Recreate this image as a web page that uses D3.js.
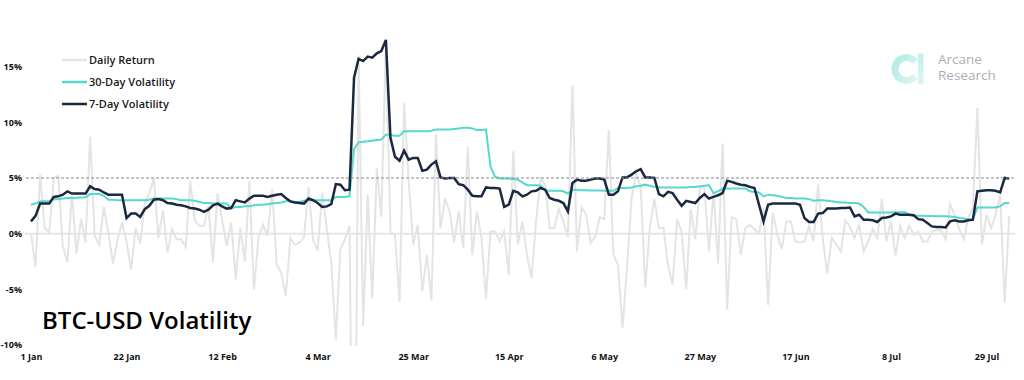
<!DOCTYPE html>
<html>
<head>
<meta charset="utf-8">
<script src="https://cdnjs.cloudflare.com/ajax/libs/d3/7.8.5/d3.min.js"></script>
<style>
  html, body { margin: 0; padding: 0; background: #ffffff; }
  svg { display: block; }
  text { font-family: "Open Sans", "Noto Sans", sans-serif; }
</style>
</head>
<body>
<svg id="chart" width="1024" height="380"></svg>
<script>
// ---------------- DATA ----------------
const startDate = "2020-01-01";

// daily return, % (Jan 1 .. Aug 3, 2020)
const dailyReturn = [
  0.0, -3.0, 5.3, 0.5, 0.1, 5.0, 5.2, -1.1, -2.6, 3.6,
  -1.8, 1.3, -0.8, 8.7, -0.2, -1.0, 2.4, 0.1, -2.7, -0.6,
  1.0, -0.7, -3.2, 0.5, -0.9, 2.7, 3.6, 5.0, -0.4, 2.1,
  -1.7, 0.4, -0.5, -0.5, -1.2, 4.7, 1.2, 0.7, 0.7, 2.5,
  -2.6, 3.6, 1.2, -1.1, 1.0, -4.1, 0.5, -2.5, 4.7, -5.0,
  -0.3, 0.8, -0.2, 4.0, -2.8, -3.5, -5.6, -0.4, -1.0, -0.8,
  -0.3, 4.2, -0.6, -1.5, 3.7, 0.5, -2.6, -9.5, -1.4, -0.5,
  0.7, -37.0, 16.0, -8.3, 3.5, -5.8, 5.9, 1.5, 17.2, 0.2,
  -0.2, -6.1, 11.7, 4.8, -1.0, 0.8, -5.2, -1.9, -6.0, 8.9,
  0.5, 3.2, 2.0, -0.8, 2.0, -1.3, 7.8, -1.9, 2.0, -0.4,
  -5.8, 0.2, 0.2, -0.7, 0.2, -3.7, 7.4, -1.0, 1.1, -1.9,
  -4.0, 1.1, 5.0, 4.4, 0.5, 0.5, 2.2, 1.1, -0.3, 13.3,
  -1.6, 2.4, 1.7, -0.8, -0.3, 1.5, 1.3, 9.3, -1.9, -2.8,
  -8.5, -3.0, 3.2, 5.4, 4.2, -4.8, 0.5, 3.1, 0.5, 0.5,
  -2.8, -4.6, 1.3, 0.2, -5.0, 2.2, -0.5, 4.1, 4.1, -1.6,
  3.8, -2.7, 8.1, -6.8, 1.5, 1.3, -1.9, 0.5, 0.8, 0.4,
  0.0, 2.3, -6.4, 1.9, 0.0, -1.4, 1.1, 1.1, -0.7, -0.8,
  -0.7, 0.7, -0.7, 4.4, -0.4, -3.6, -0.4, -1.0, -1.6, 1.2,
  0.6, -0.4, 0.8, -1.6, -0.7, 0.4, -0.4, 3.1, -0.7, 1.1,
  -2.0, 0.7, -0.4, 0.7, -0.1, 0.2, -0.7, -0.7, 0.2, 0.3,
  0.3, -0.5, 2.6, 1.7, 0.4, -0.5, 1.5, 2.3, 11.3, -1.0,
  1.7, 0.5, 1.7, 3.5, -6.2, 1.6
];

// 30-day volatility, %
const vol30 = [
  2.6, 2.7, 2.9, 2.9, 2.9, 3.1, 3.1, 3.15, 3.2, 3.2,
  3.22, 3.25, 3.26, 3.55, 3.55, 3.55, 3.4, 3.05, 3.05, 3.0,
  3.0, 3.0, 3.0, 3.0, 3.0, 3.0, 3.05, 3.15, 3.15, 3.15,
  3.15, 3.15, 3.1, 3.0, 3.0, 3.0, 2.95, 2.85, 2.75, 2.75,
  2.7, 2.7, 2.7, 2.7, 2.3, 2.4, 2.4, 2.45, 2.45, 2.55,
  2.6, 2.6, 2.65, 2.7, 2.75, 2.8, 2.9, 2.9, 2.85, 2.85,
  2.95, 3.0, 3.0, 3.0, 3.0, 3.0, 3.0, 3.3, 3.3, 3.3,
  3.35, 7.6, 8.2, 8.25, 8.3, 8.35, 8.4, 8.45, 8.9, 8.85,
  8.8, 8.8, 9.2, 9.2, 9.2, 9.2, 9.2, 9.2, 9.25, 9.35,
  9.35, 9.35, 9.35, 9.4, 9.45, 9.5, 9.5, 9.45, 9.3, 9.3,
  9.35, 6.0, 5.1, 4.95, 4.95, 4.95, 4.9, 4.85, 4.6, 4.35,
  4.35, 4.35, 4.3, 3.9, 3.85, 3.85, 3.85, 3.8, 3.6, 3.95,
  3.95, 3.9, 3.9, 3.88, 3.88, 3.87, 3.85, 3.85, 3.85, 4.1,
  4.1, 4.1, 4.15, 4.25, 4.3, 4.4, 4.3, 4.2, 4.15, 4.15,
  4.15, 4.15, 4.15, 4.15, 4.15, 4.2, 4.2, 4.25, 4.3, 4.35,
  3.65, 3.8, 4.05, 4.05, 4.05, 4.05, 4.05, 4.05, 3.8, 3.75,
  3.7, 3.35, 3.5, 3.45, 3.4, 3.3, 3.2, 3.2, 3.15, 3.15,
  3.15, 3.1, 2.95, 3.0, 3.0, 2.95, 2.9, 2.85, 2.8, 2.8,
  2.75, 2.75, 2.7, 2.4, 1.9, 1.9, 1.9, 1.9, 1.9, 1.9,
  1.92, 1.92, 1.95, 1.7, 1.6, 1.6, 1.6, 1.58, 1.58, 1.57,
  1.57, 1.56, 1.55, 1.5, 1.4, 1.35, 1.3, 1.25, 2.35, 2.35,
  2.35, 2.35, 2.35, 2.45, 2.75, 2.75
];

// 7-day volatility, %
const vol7 = [
  1.1, 1.6, 2.7, 2.7, 2.7, 3.3, 3.35, 3.5, 3.8, 3.6,
  3.6, 3.6, 3.6, 4.25, 4.0, 3.95, 3.7, 3.5, 3.5, 3.5,
  3.5, 1.4, 1.8, 1.8, 1.5, 2.2, 2.5, 3.05, 3.1, 3.0,
  2.75, 2.7, 2.6, 2.55, 2.45, 2.3, 2.25, 2.15, 1.95, 2.15,
  2.55, 2.7, 2.45, 2.25, 2.3, 3.0, 2.9, 2.8, 3.15, 3.4,
  3.4, 3.4, 3.3, 3.4, 3.5, 3.55, 3.2, 2.9, 2.8, 2.75,
  2.7, 3.15, 3.0, 2.75, 2.4, 2.45, 2.65, 4.45, 4.4, 3.9,
  3.95, 14.0, 15.7, 15.5, 15.9, 15.8, 16.2, 16.4, 17.4, 8.6,
  6.9, 6.55, 7.45, 6.65, 6.8, 6.8, 5.65, 5.75, 6.2, 6.5,
  5.05, 4.95, 5.0, 5.0, 4.45, 4.35, 3.95, 3.4, 3.35, 3.35,
  4.15, 4.1, 4.1, 4.05, 2.4, 2.6, 3.85, 3.7, 3.35, 3.5,
  3.8, 3.85, 4.1, 3.95, 3.2, 3.05, 2.95, 2.75, 2.0, 4.55,
  4.85, 4.75, 4.75, 4.85, 4.95, 4.95, 4.85, 3.5, 3.5, 3.8,
  5.05, 5.05, 5.3, 5.6, 5.8, 5.05, 5.05, 5.0, 3.55, 3.35,
  3.75, 3.65, 3.05, 2.5, 2.95, 2.85, 2.75, 3.2, 3.55, 3.15,
  3.3, 3.45, 3.65, 4.75, 4.65, 4.5, 4.4, 4.35, 4.2, 4.1,
  2.6, 1.1, 2.6, 2.7, 2.7, 2.7, 2.7, 2.7, 2.7, 2.6,
  1.4, 1.05, 1.05, 1.8, 1.85, 2.25, 2.25, 2.25, 2.3, 2.3,
  2.35, 1.55, 1.7, 1.25, 1.25, 1.2, 1.05, 1.4, 1.45, 1.55,
  1.8, 1.7, 1.7, 1.7, 1.65, 1.3, 1.25, 0.95, 0.65, 0.6,
  0.6, 0.55, 1.1, 1.2, 1.1, 1.1, 1.2, 1.25, 3.8, 3.85,
  3.9, 3.9, 3.85, 3.7, 5.0, 4.95
];

const yTicks = [-10, -5, 0, 5, 10, 15];
const xTickLabels = ["1 Jan", "22 Jan", "12 Feb", "4 Mar", "25 Mar", "15 Apr",
                     "6 May", "27 May", "17 Jun", "8 Jul", "29 Jul"];
const legendLabels = ["Daily Return", "30-Day Volatility", "7-Day Volatility"];
const titleText = "BTC-USD Volatility";
const logoLines = ["Arcane", "Research"];
const refLevel = 5;

// ---------------- CHART ----------------
const svg = d3.select("#chart");
const defs = svg.append("defs");
const t0 = new Date(startDate + "T00:00:00Z");
const dates = dailyReturn.map((_, i) => d3.utcDay.offset(t0, i));

const x = d3.scaleUtc()
  .domain([t0, dates[dates.length - 1]])
  .range([31, 31 + 4.55 * (dates.length - 1)]);
const y = d3.scaleLinear().domain([-10, 17.75]).range([345, 36]);

const colors = { daily: "#e4e4e4", v30: "#55d8cd", v7: "#1b2940" };

defs.append("clipPath").attr("id", "plotclip")
  .append("rect").attr("x", 20).attr("y", y(17.75)).attr("width", 1000)
  .attr("height", y(-10) - y(17.75) + 1);

// logo
const logo = svg.append("g");
const lg = defs.append("linearGradient").attr("id", "logoGrad")
  .attr("x1", "0").attr("y1", "0").attr("x2", "1").attr("y2", "0.6");
lg.append("stop").attr("offset", "0%").attr("stop-color", "#a9e8e2");
lg.append("stop").attr("offset", "100%").attr("stop-color", "#dcf6f3");
const lg2 = defs.append("linearGradient").attr("id", "logoGrad2")
  .attr("x1", "0").attr("y1", "0").attr("x2", "0").attr("y2", "1");
lg2.append("stop").attr("offset", "0%").attr("stop-color", "#c2efea");
lg2.append("stop").attr("offset", "100%").attr("stop-color", "#dcf6f3");
logo.append("path")
  .attr("d", d3.arc().innerRadius(8).outerRadius(15)
    .startAngle(Math.PI * 0.72).endAngle(Math.PI * 2.28)())
  .attr("transform", "translate(906.5,69)")
  .attr("fill", "url(#logoGrad)");
logo.append("rect").attr("x", 918).attr("y", 53.5).attr("width", 5.5).attr("height", 31)
  .attr("fill", "url(#logoGrad2)");
logo.selectAll("text.logo").data(logoLines).join("text")
  .attr("class", "logo")
  .attr("x", 938).attr("y", (d, i) => 64 + i * 16)
  .attr("font-size", 13.5).attr("fill", "#aab0b8")
  .attr("font-family", "Roboto, 'Open Sans', sans-serif")
  .text(d => d);

// zero line
svg.append("line")
  .attr("x1", 25).attr("x2", 1015).attr("y1", y(0)).attr("y2", y(0))
  .attr("stroke", "#e6e6e6").attr("stroke-width", 2);

const plot = svg.append("g").attr("clip-path", "url(#plotclip)");

const line = arr => d3.line().x((d, i) => x(dates[i])).y(d => y(d))(arr);

plot.append("path").attr("d", line(dailyReturn))
  .attr("fill", "none").attr("stroke", colors.daily).attr("stroke-width", 2)
  .attr("stroke-linejoin", "miter");

// reference dashed line
svg.append("line")
  .attr("x1", 26).attr("x2", 1015).attr("y1", y(refLevel)).attr("y2", y(refLevel))
  .attr("stroke", "#8a8a8a").attr("stroke-width", 1).attr("stroke-dasharray", "3,2");

plot.append("path").attr("d", line(vol30))
  .attr("fill", "none").attr("stroke", colors.v30).attr("stroke-width", 2);
plot.append("path").attr("d", line(vol7))
  .attr("fill", "none").attr("stroke", colors.v7).attr("stroke-width", 2.5);

// y axis labels
const yAxis = d3.axisLeft(y).tickValues(yTicks).tickSize(0).tickPadding(0)
  .tickFormat(d => d + "%");
svg.append("g").attr("transform", "translate(22,0)").call(yAxis)
  .call(g => g.select(".domain").remove())
  .selectAll("text").attr("font-size", 9).attr("font-weight", 700)
  .attr("fill", "#111").attr("font-family", "'Open Sans', sans-serif");

// x axis labels
const tickDates = xTickLabels.map((_, i) => d3.utcDay.offset(t0, i * 21));
const xAxis = d3.axisBottom(x).tickValues(tickDates).tickSize(0).tickPadding(0)
  .tickFormat((d, i) => xTickLabels[i]);
svg.append("g").attr("transform", "translate(0,354)").call(xAxis)
  .call(g => g.select(".domain").remove())
  .selectAll("text").attr("font-size", 9).attr("font-weight", 700)
  .attr("fill", "#111").attr("font-family", "'Open Sans', sans-serif");

// legend
const legendColors = [colors.daily, colors.v30, colors.v7];
const leg = svg.append("g");
legendLabels.forEach((lab, i) => {
  const ly = 60 + i * 22;
  leg.append("line").attr("x1", 62).attr("x2", 87).attr("y1", ly).attr("y2", ly)
    .attr("stroke", legendColors[i]).attr("stroke-width", 2.5);
  leg.append("text").attr("x", 89).attr("y", ly).attr("dy", "0.35em")
    .attr("font-size", 11).attr("font-weight", 600).attr("fill", "#1a1a1a")
    .text(lab);
});

// title
svg.append("text").attr("x", 42).attr("y", 329)
  .attr("font-size", 24).attr("font-weight", 600).attr("fill", "#000")
  .text(titleText);
</script>
</body>
</html>
